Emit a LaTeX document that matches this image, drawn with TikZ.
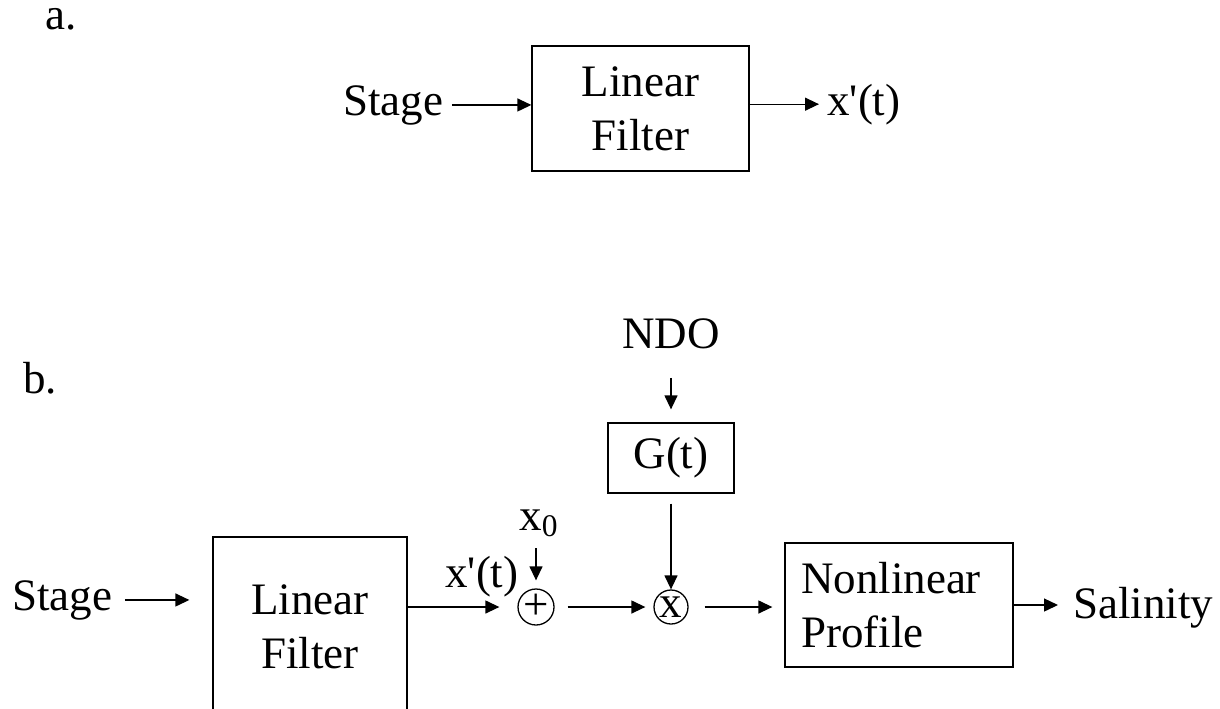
\documentclass[tikz,border=0pt]{standalone}
\usepackage{fontspec}
\setmainfont{Liberation Serif}
\usetikzlibrary{arrows.meta}

\begin{document}
\begin{tikzpicture}[
    x=0.5pt, y=-0.5pt,
    font=\fontsize{22.5}{27}\selectfont,
    lbl/.style={inner sep=4pt},
    block/.style={draw, line width=0.65pt, align=center, inner sep=0pt},
    junct/.style={draw, circle, line width=0.65pt, inner sep=0pt},
    sig/.style={line width=0.65pt},
    >={Triangle[length=7pt, width=6.5pt]}
]

\useasboundingbox (0,0) rectangle (1220,708);
\clip (0,0) rectangle (1220,708);

% Part a
\node[lbl, inner sep=0pt, anchor=base west] (labA) at (45,29) {a.};
\node[lbl, anchor=base west] (stageA) at (335,115) {Stage};
\node[block, minimum width=108.5pt, minimum height=62.5pt] (filtA) at (640.5,108.5) {Linear\\Filter};
\node[lbl, anchor=base west] (outA) at (819,115) {x\textquotesingle(t)};

\draw[->, sig] (stageA.east) -- (stageA.east -| filtA.west);
\draw[->, sig] (filtA.east |- outA.west) -- (outA.west);

% Part b
\node[lbl, anchor=base west] (labB) at (15,393) {b.};
\node[lbl, anchor=base west] (stageB) at (4,610) {Stage};
\node[block, minimum width=97pt, minimum height=90pt] (filtB) at (310,627) {Linear\\Filter};
\node[lbl, anchor=base west] (xB) at (437,587) {x\textquotesingle(t)};
\node[lbl, anchor=base] (x0) at (539,530) {x\textsubscript{0}};
\node[junct, minimum size=18pt] (plus) at (536,607) {+};

% Gain branch
\node[lbl, anchor=base] (ndo) at (671,348) {NDO};
\node[block, minimum width=63pt, minimum height=35pt] (gBox) at (671,458) {G(t)};
\node[junct, minimum size=17pt] (mult) at (671,607) {x};

\node[block, minimum width=114pt, minimum height=62pt, text width=98pt, align=left] (nonlin) at (899,605) {Nonlinear\\Profile};
\node[lbl, anchor=base west] (sal) at (1065,618) {Salinity};

% Signals
\draw[->, sig, shorten <=2pt, shorten >=11.5pt] (stageB.east) -- (stageB.east -| filtB.west);
\draw[->, sig, shorten >=9pt] (filtB.east |- plus.west) -- (plus.west);
\draw[->, sig, shorten <=1.5pt, shorten >=4pt] (x0.south -| plus.north) -- (plus.north);
\draw[->, sig, shorten <=6.5pt, shorten >=4pt] (plus.east) -- (mult.west);
\draw[->, sig, shorten <=10.5pt, shorten >=6.5pt] (ndo.south) -- (gBox.north);
\draw[->, sig, shorten <=5pt] (gBox.south) -- (mult.north);
\draw[->, sig, shorten <=8pt, shorten >=6pt] (mult.east) -- (nonlin.west |- mult.east);
\draw[->, sig, shorten >=3.5pt] (nonlin.east) -- (nonlin.east -| sal.west);

\end{tikzpicture}
\end{document}
